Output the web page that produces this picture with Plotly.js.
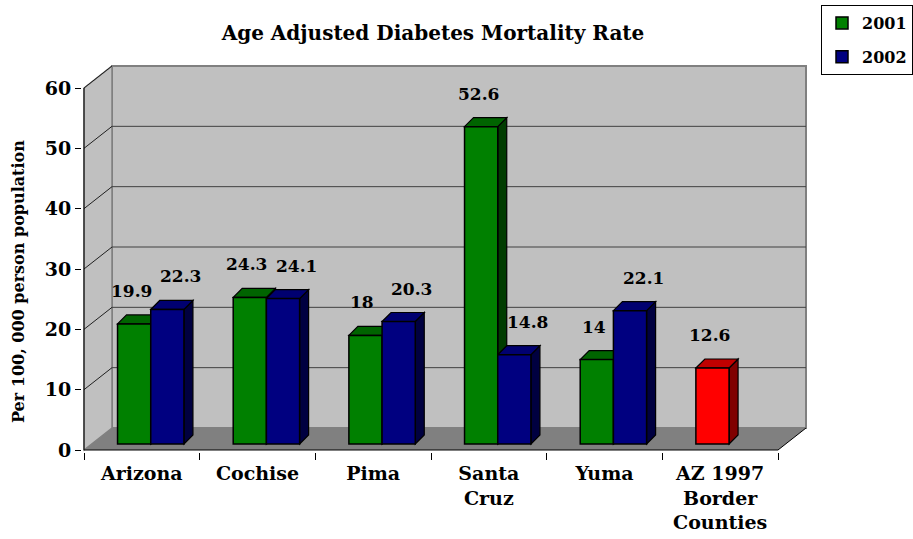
<!DOCTYPE html>
<html>
<head>
<meta charset="utf-8">
<script src="https://cdn.plot.ly/plotly-3.0.1.min.js"></script>
<style>html,body{margin:0;padding:0;background:#fff;}#chart{width:913px;height:539px;}</style>
</head>
<body>
<div id="chart"></div>
<script>
// ---- data ----
const categories = ['Arizona', 'Cochise', 'Pima', 'Santa Cruz', 'Yuma', 'AZ 1997 Border Counties'];
const tickLabels = ['Arizona', 'Cochise', 'Pima', 'Santa<br>Cruz', 'Yuma', 'AZ 1997<br>Border<br>Counties'];
const seriesNames = ['2001', '2002'];
const rate2001 = [19.9, 24.3, 18, 52.6, 14, 12.6];
const rate2002 = [22.3, 24.1, 20.3, 14.8, 22.1, null];
const yTicks = [0, 10, 20, 30, 40, 50, 60];
const chartTitle = 'Age Adjusted Diabetes Mortality Rate';
const yTitle = 'Per 100, 000 person population';

// ---- geometry / style ----
const W = 913, H = 539;
const FONT = 'DejaVu Serif';
const frontLeft = 84, frontRight = 778, frontBottom = 450, frontTop = 88;
const nCat = categories.length;
const yMax = 60;
const catW = (frontRight - frontLeft) / nCat;
const ppu = (frontBottom - frontTop) / yMax;
const pad = 2;
const mL = frontLeft - pad, mR = W - 808, mT = 65, mB = H - (frontBottom + pad);
const plotW = W - mL - mR, plotH = H - mT - mB;
const xr = [-0.5 - pad / catW, -0.5 + (plotW - pad) / catW];
const yr = [-pad / ppu, (plotH - pad) / ppu];
const barLift = 6 / ppu;
const y2r = [yr[0] - barLift, yr[1] - barLift];
const wDX = 28 / catW, wDY = 22 / ppu;
const bDX = 9 / catW, bDY = 9 / ppu;
const barW = 0.287;
const offsets = [-0.21, 0.077];
const labelShift = [-3, 13];

const colors = {
  green: {front: '#008000', top: '#006400', side: '#003c00'},
  blue: {front: '#000080', top: '#000070', side: '#000040'},
  red: {front: '#ff0000', top: '#c00000', side: '#800000'}
};
const pointColors2001 = categories.map((c, i) => i === nCat - 1 ? colors.red : colors.green);
const pointColors2002 = categories.map(() => colors.blue);

const series = [rate2001, rate2002];
const seriesColors = [pointColors2001, pointColors2002];

const traces = series.map((vals, s) => ({
  type: 'bar',
  name: seriesNames[s],
  legendgroup: 'g' + s,
  x: categories,
  y: vals,
  yaxis: 'y2',
  width: barW,
  offset: offsets[s],
  marker: {color: seriesColors[s].map(c => c.front), line: {color: '#000', width: 1.5}},
  hoverinfo: 'skip'
}));

const shapes = [];
const L = -0.5, R = nCat - 0.5;
// back wall
shapes.push({type: 'rect', layer: 'below', xref: 'x', yref: 'y', x0: L + wDX, x1: R + wDX, y0: wDY, y1: yMax + wDY,
  fillcolor: '#c0c0c0', line: {color: '#808080', width: 2}});
// left wall
shapes.push({type: 'path', layer: 'below', xref: 'x', yref: 'y',
  path: `M${L},0 L${L + wDX},${wDY} L${L + wDX},${yMax + wDY} L${L},${yMax} Z`,
  fillcolor: '#c0c0c0', line: {color: '#808080', width: 1.5}});
// floor
shapes.push({type: 'path', layer: 'below', xref: 'x', yref: 'y',
  path: `M${L},0 L${R},0 L${R + wDX},${wDY} L${L + wDX},${wDY} Z`,
  fillcolor: '#808080', line: {width: 0}});
// grid lines
yTicks.forEach(v => {
  if (v > 0 && v < yMax) {
    shapes.push({type: 'line', layer: 'below', xref: 'x', yref: 'y', x0: L + wDX, x1: R + wDX, y0: v + wDY, y1: v + wDY,
      line: {color: '#404040', width: 1}});
  }
  if (v > 0) {
    shapes.push({type: 'line', layer: 'below', xref: 'x', yref: 'y', x0: L, x1: L + wDX, y0: v, y1: v + wDY,
      line: {color: '#202020', width: 1}});
  }
});
// axis lines
shapes.push({type: 'line', layer: 'below', xref: 'x', yref: 'y', x0: L, x1: L, y0: 0, y1: yMax, line: {color: '#000', width: 1}});
shapes.push({type: 'line', layer: 'below', xref: 'x', yref: 'y', x0: L, x1: R, y0: 0, y1: 0, line: {color: '#000', width: 1}});
shapes.push({type: 'line', layer: 'below', xref: 'x', yref: 'y', x0: R, x1: R + wDX, y0: 0, y1: wDY, line: {color: '#000', width: 1}});

// 3D faces of bars (computed from the data)
const annotations = [];
categories.forEach((c, i) => {
  series.forEach((vals, s) => {
    const v = vals[i];
    if (v === null || v === undefined) return;
    const col = seriesColors[s][i];
    const x0 = i + offsets[s], x1 = x0 + barW;
    shapes.push({type: 'path', layer: 'below', xref: 'x', yref: 'y2',
      path: `M${x1},0 L${x1 + bDX},${bDY} L${x1 + bDX},${v + bDY} L${x1},${v} Z`,
      fillcolor: col.side, line: {color: '#000', width: 1.2}});
    shapes.push({type: 'path', layer: 'below', xref: 'x', yref: 'y2',
      path: `M${x0},${v} L${x1},${v} L${x1 + bDX},${v + bDY} L${x0 + bDX},${v + bDY} Z`,
      fillcolor: col.top, line: {color: '#000', width: 1.2}});
    annotations.push({xref: 'x', yref: 'y2', x: (x0 + x1) / 2, y: v, yshift: 33, xshift: labelShift[s],
      yanchor: 'middle', xanchor: 'center', showarrow: false, text: String(v),
      font: {family: FONT, size: 17, weight: 700, color: '#000'}});
  });
});

annotations.push({xref: 'paper', yref: 'paper', x: (18 - mL) / plotW, y: (H - mB - 282) / plotH,
  xanchor: 'center', yanchor: 'middle', textangle: -90, showarrow: false, text: yTitle,
  font: {family: FONT, size: 16, weight: 700, color: '#000'}});

const layout = {
  width: W, height: H,
  margin: {l: mL, r: mR, t: mT, b: mB, pad: 0},
  paper_bgcolor: '#fff', plot_bgcolor: 'rgba(0,0,0,0)',
  font: {family: FONT, color: '#000', weight: 700},
  title: {text: chartTitle, x: 433 / W, xref: 'container', xanchor: 'center',
    y: 1 - 33 / H, yref: 'container', yanchor: 'middle',
    font: {family: FONT, size: 20, weight: 700, color: '#000'}},
  barmode: 'overlay',
  showlegend: true,
  legend: {x: 1, y: (H - mB - 5) / plotH, xref: 'container', xanchor: 'right', yanchor: 'top',
    bgcolor: '#fff', bordercolor: '#000', borderwidth: 1, tracegroupgap: 10, itemwidth: 30,
    font: {family: FONT, size: 16, weight: 700, color: '#000'}},
  xaxis: {type: 'category', range: xr, autorange: false, showgrid: false, zeroline: false, showline: false,
    tickmode: 'array', tickvals: categories, ticktext: tickLabels, tickson: 'boundaries',
    ticks: 'outside', ticklen: 7, tickcolor: '#000', tickwidth: 1, ticklabelstandoff: 8,
    tickfont: {family: FONT, size: 19, weight: 700, color: '#000'}},
  yaxis: {range: yr, autorange: false, showgrid: false, zeroline: false, showline: false,
    tickmode: 'array', tickvals: yTicks, ticks: 'outside', ticklen: 6, tickcolor: '#000', tickwidth: 1,
    tickfont: {family: FONT, size: 19, weight: 700, color: '#000'}},
  yaxis2: {range: y2r, autorange: false, overlaying: 'y', showgrid: false, zeroline: false, showline: false,
    showticklabels: false, ticks: ''},
  shapes: shapes,
  annotations: annotations
};

Plotly.newPlot('chart', traces, layout, {displayModeBar: false, staticPlot: true});
</script>
</body>
</html>
